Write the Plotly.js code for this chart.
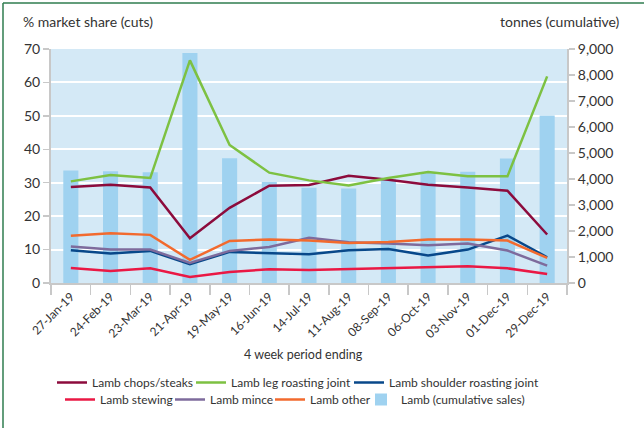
<!DOCTYPE html>
<html>
<head>
<meta charset="utf-8">
<script src="https://cdn.plot.ly/plotly-3.0.1.min.js"></script>
<style>html,body{margin:0;padding:0;background:#fff;}#chart{width:644px;height:428px;}</style>
</head>
<body>
<div id="chart"></div>
<script>
const periods = ["27-Jan-19","24-Feb-19","23-Mar-19","21-Apr-19","19-May-19","16-Jun-19","14-Jul-19","11-Aug-19","08-Sep-19","06-Oct-19","03-Nov-19","01-Dec-19","29-Dec-19"];
const chops    = [28.7, 29.4, 28.6, 13.4, 22.5, 29.1, 29.3, 32.1, 30.9, 29.4, 28.6, 27.6, 14.5];
const leg      = [30.4, 32.3, 31.4, 66.6, 41.3, 33.0, 30.7, 29.2, 31.4, 33.2, 31.9, 31.9, 61.8];
const shoulder = [9.8, 8.8, 9.6, 5.6, 9.3, 9.0, 8.6, 9.8, 10.2, 8.2, 10.0, 14.2, 7.7];
const stewing  = [4.5, 3.6, 4.4, 1.8, 3.3, 4.1, 3.9, 4.2, 4.4, 4.7, 5.0, 4.4, 2.7];
const mince    = [10.9, 10.0, 10.0, 6.0, 9.6, 10.8, 13.5, 12.2, 11.8, 11.3, 11.8, 9.7, 5.2];
const other    = [14.1, 14.9, 14.4, 6.9, 12.6, 13.0, 12.7, 12.0, 12.3, 13.0, 13.0, 12.7, 7.5];
const lambCumulative = [4330, 4300, 4260, 8850, 4800, 3880, 3660, 3630, 4000, 4260, 4280, 4790, 6440];
const seriesNames = ["Lamb chops/steaks","Lamb leg roasting joint","Lamb shoulder roasting joint","Lamb stewing","Lamb mince","Lamb other","Lamb (cumulative sales)"];

const FONT = "Lato, 'Open Sans', sans-serif";
const TXT = "#333333";
const L = 51, R = 567, T = 49, B = 283;
const W = R - L, H = B - T;
const px = v => (v - L) / W;
const py = v => (B - v) / H;

const lineData = [chops, leg, shoulder, stewing, mince, other];
const lineColors = ["#8c0b3c", "#7dc142", "#08488a", "#ea1844", "#7e6b9c", "#f26a2e"];
const legendIds = ["legend","legend2","legend3","legend4","legend5","legend6","legend7"];
// legend box placement (left edge px, top px) per entry
const legendPos = [[52,368],[191,368],[349,368],[60,385],[170,385],[270,385],[361,385]];

const traces = lineData.map((y, i) => ({
  type: "scatter", mode: "lines", x: periods, y: y, name: seriesNames[i],
  line: {color: lineColors[i], width: 2.5}, yaxis: "y2", legend: legendIds[i]
}));
traces.push({
  type: "bar", x: periods, y: lambCumulative, name: seriesNames[6],
  marker: {color: "#9fd2f0"}, yaxis: "y", legend: legendIds[6]
});

const layout = {
  width: 644, height: 428,
  margin: {l: L, r: 644 - R, t: T, b: 428 - B, autoexpand: false},
  paper_bgcolor: "#ffffff",
  plot_bgcolor: "#d4e9f6",
  font: {family: FONT, color: TXT, size: 12},
  bargap: 0.62,
  showlegend: true,
  xaxis: {
    type: "category", tickson: "boundaries", ticks: "outside", ticklen: 10,
    tickcolor: "#c8c8c8", tickwidth: 1.5, showline: true, linecolor: "#c8c8c8", linewidth: 2,
    tickangle: -45, tickfont: {size: 12, color: TXT}, showgrid: false, zeroline: false
  },
  yaxis: {
    side: "right", range: [0, 9000], dtick: 1000, tickformat: ",d", showgrid: false,
    ticks: "outside", ticklen: 6, tickcolor: "#c8c8c8", tickwidth: 1.5,
    showline: true, linecolor: "#c8c8c8", linewidth: 2, zeroline: false,
    tickfont: {size: 14, color: TXT}
  },
  yaxis2: {
    overlaying: "y", side: "left", range: [0, 70], dtick: 10,
    showgrid: true, gridcolor: "#ffffff", gridwidth: 2,
    ticks: "outside", ticklen: 6, tickcolor: "#c8c8c8", tickwidth: 1.5,
    showline: true, linecolor: "#c8c8c8", linewidth: 2, zeroline: false,
    tickfont: {size: 14, color: TXT}
  },
  annotations: [
    {text: "% market share (cuts)", xref: "paper", yref: "paper", x: px(21), y: py(22),
     xanchor: "left", yanchor: "middle", showarrow: false, font: {size: 14, color: TXT}},
    {text: "tonnes (cumulative)", xref: "paper", yref: "paper", x: px(622), y: py(22),
     xanchor: "right", yanchor: "middle", showarrow: false, font: {size: 14, color: TXT}},
    {text: "4 week period ending", xref: "paper", yref: "paper", x: px(303), y: py(354),
     xanchor: "center", yanchor: "middle", showarrow: false, font: {size: 12.5, color: TXT}}
  ],
  shapes: [
    {type: "line", xref: "paper", yref: "paper", x0: px(3), x1: px(3), y0: py(3), y1: py(430),
     line: {color: "#2f7d4f", width: 1.5}},
    {type: "line", xref: "paper", yref: "paper", x0: px(3), x1: px(646), y0: py(3), y1: py(3),
     line: {color: "#2f7d4f", width: 1.5}}
  ]
};
legendIds.forEach((id, i) => {
  layout[id] = {
    orientation: "h", x: px(legendPos[i][0]), xanchor: "left", y: py(legendPos[i][1]), yanchor: "top",
    font: {size: 12, color: TXT}, bgcolor: "rgba(0,0,0,0)"
  };
});

Plotly.newPlot("chart", traces, layout, {displayModeBar: false, staticPlot: true});
</script>
</body>
</html>
